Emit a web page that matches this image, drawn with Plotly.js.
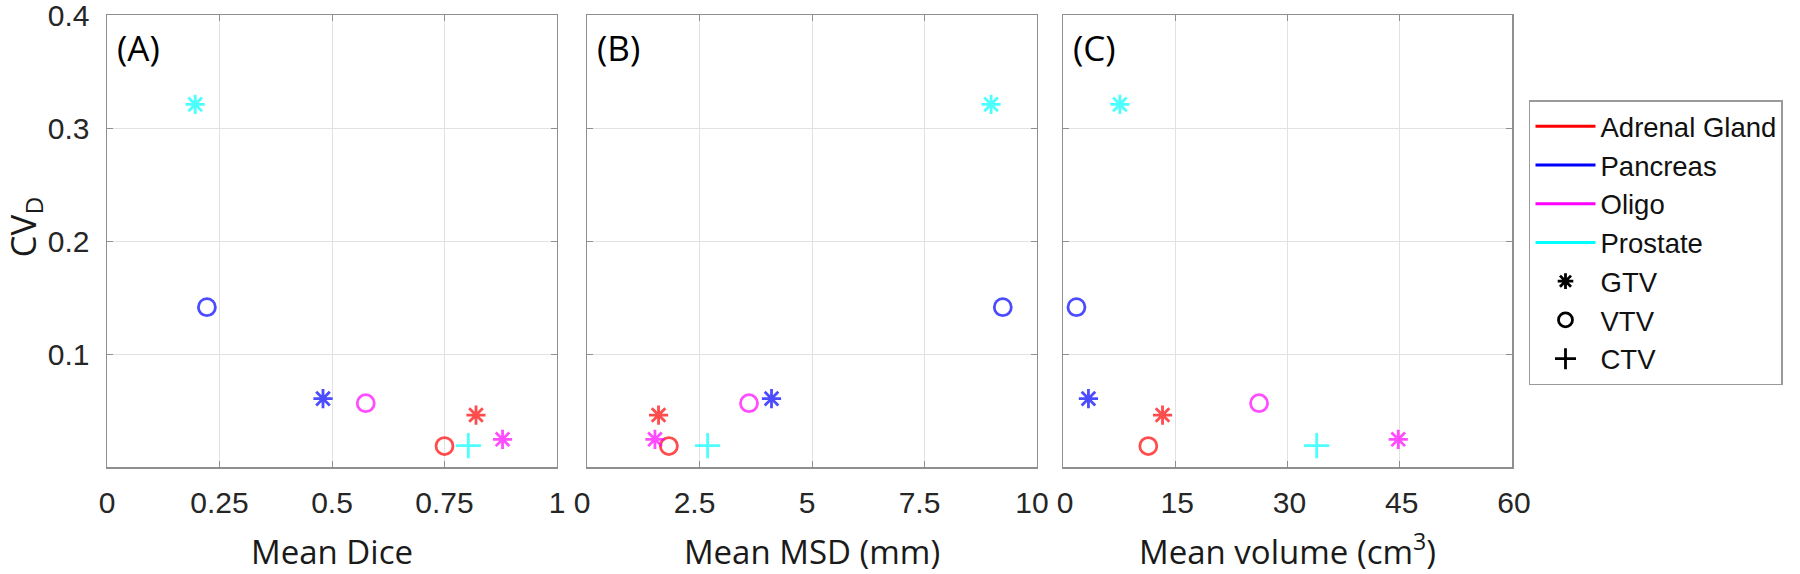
<!DOCTYPE html>
<html>
<head>
<meta charset="utf-8">
<script src="https://cdn.plot.ly/plotly-3.0.1.min.js"></script>
<style>
html,body{margin:0;padding:0;background:#fff;}
#chart{width:1800px;height:574px;}
</style>
</head>
<body>
<div id="chart"></div>
<script>
// ---- data ----
const organs = ['Adrenal Gland', 'Pancreas', 'Oligo', 'Prostate'];
const organColors = ['#ff0000', '#0000ff', '#ff00ff', '#00ffff'];
const volumeTypes = ['GTV', 'VTV', 'CTV'];
const typeSymbols = ['asterisk-open', 'circle-open', 'cross-thin-open'];
const typeSizes = [16, 17, 18];

const pointOrgan = ['Adrenal Gland', 'Adrenal Gland', 'Pancreas', 'Pancreas', 'Oligo', 'Oligo', 'Prostate', 'Prostate'];
const pointType  = ['GTV', 'VTV', 'GTV', 'VTV', 'GTV', 'VTV', 'GTV', 'CTV'];
const cvD        = [0.046, 0.0185, 0.0605, 0.1415, 0.0245, 0.0565, 0.321, 0.019];
const meanDice   = [0.820, 0.750, 0.480, 0.222, 0.879, 0.575, 0.196, 0.803];
const meanMSD    = [1.59, 1.82, 4.10, 9.24, 1.51, 3.60, 8.98, 2.68];
const meanVolume = [13.3, 11.4, 3.4, 1.8, 44.8, 26.2, 7.6, 33.9];

const panelLabels = ['(A)', '(B)', '(C)'];
const xTitles = ['Mean Dice', 'Mean MSD (mm)', 'Mean volume (cm<sup>3</sup>)'];
const yTitle = 'CV<sub>D</sub>';
const xTicks = [[0, 0.25, 0.5, 0.75, 1], [0, 2.5, 5, 7.5, 10], [0, 15, 30, 45, 60]];
const xTickText = [['0', '0.25', '0.5', '0.75', '1'], ['0', '2.5', '5', '7.5', '10'], ['0', '15', '30', '45', '60']];
const yTicks = [0.1, 0.2, 0.3, 0.4];
const yTickText = ['0.1', '0.2', '0.3', '0.4'];

// ---- build ----
const colorOf = o => organColors[organs.indexOf(o)];
const symOf = t => typeSymbols[volumeTypes.indexOf(t)];
const sizeOf = t => typeSizes[volumeTypes.indexOf(t)];

const xSeries = [meanDice, meanMSD, meanVolume];
const axisIds = ['', '2', '3'];
const domains = [[0, 0.32028], [0.34164, 0.66192], [0.68043, 1]];
const labelShifts = [0, -5, 2];

const traces = [];
xSeries.forEach((xs, i) => {
  traces.push({
    type: 'scatter', mode: 'markers',
    x: xs, y: cvD,
    xaxis: 'x' + axisIds[i], yaxis: 'y' + axisIds[i],
    showlegend: false,
    marker: {
      color: pointOrgan.map(colorOf),
      symbol: pointType.map(symOf),
      size: pointType.map(sizeOf),
      line: { width: 2.8 }
    },
    hoverinfo: 'x+y'
  });
});
// legend entries
organs.forEach((o, k) => {
  traces.push({
    type: 'scatter', mode: 'lines', x: [null], y: [null], name: o,
    line: { color: organColors[k], width: 3 }, showlegend: true
  });
});
volumeTypes.forEach((t, k) => {
  traces.push({
    type: 'scatter', mode: 'markers', x: [null], y: [null], name: t,
    marker: { color: '#000', symbol: typeSymbols[k], size: typeSizes[k] - 3, line: { width: 2.8 } },
    showlegend: true
  });
});

const tickFont = { family: '"Liberation Sans", Arial, sans-serif', size: 30, color: '#262626' };
const titleFont = { family: '"Open Sans", sans-serif', size: 33, color: '#1a1a1a' };

const layout = {
  width: 1800, height: 574,
  margin: { l: 107, r: 288, t: 15, b: 107 },
  paper_bgcolor: '#fff', plot_bgcolor: '#fff',
  showlegend: true,
  legend: {
    x: 0.84944, y: 0.8253, xref: 'container', yref: 'container',
    xanchor: 'left', yanchor: 'top',
    font: { family: '"Liberation Sans", Arial, sans-serif', size: 27.5, color: '#111' },
    bordercolor: '#9a9a9a', borderwidth: 1.5, bgcolor: '#fff',
    itemwidth: 60, traceorder: 'normal'
  },
  annotations: [{
    text: yTitle, xref: 'paper', yref: 'paper',
    x: -0.059, y: 0.53, xanchor: 'center', yanchor: 'middle', textangle: -90,
    showarrow: false, font: { family: '"Open Sans", sans-serif', size: 35, color: '#1a1a1a' }
  }]
};

xSeries.forEach((xs, i) => {
  const xa = 'xaxis' + axisIds[i];
  const ya = 'yaxis' + axisIds[i];
  const last = xTicks[i][xTicks[i].length - 1];
  layout[xa] = {
    domain: domains[i], range: [0, last], anchor: 'y' + axisIds[i],
    tickvals: xTicks[i], ticktext: xTickText[i],
    showline: true, mirror: 'ticks', linecolor: '#8f8f8f', linewidth: 1.5,
    ticks: 'inside', ticklen: 6, tickcolor: '#8f8f8f', tickwidth: 1,
    showgrid: true, gridcolor: '#e2e2e2', gridwidth: 1, zeroline: false,
    tickfont: tickFont, ticklabelstandoff: 8, ticklabeloverflow: 'allow',
    ticklabelshift: labelShifts[i],
    title: { text: xTitles[i], font: titleFont, standoff: 30 },
    automargin: false
  };
  layout[ya] = {
    domain: [0, 1], range: [0, 0.4001], anchor: 'x' + axisIds[i],
    tickvals: yTicks, ticktext: yTickText,
    showticklabels: i === 0,
    showline: true, mirror: 'ticks', linecolor: '#8f8f8f', linewidth: 1.5,
    ticks: 'inside', ticklen: 6, tickcolor: '#8f8f8f', tickwidth: 1,
    showgrid: true, gridcolor: '#e2e2e2', gridwidth: 1, zeroline: false,
    tickfont: tickFont, ticklabelstandoff: 10, ticklabeloverflow: 'allow',
    automargin: false
  };
  layout.annotations.push({
    text: panelLabels[i], xref: 'x' + axisIds[i] + ' domain', yref: 'y' + axisIds[i] + ' domain',
    x: 0.018, y: 0.985, xanchor: 'left', yanchor: 'top', showarrow: false,
    font: { family: '"Open Sans", sans-serif', size: 35, color: '#000' }
  });
});

Plotly.newPlot('chart', traces, layout, { staticPlot: true, displayModeBar: false });
</script>
</body>
</html>
